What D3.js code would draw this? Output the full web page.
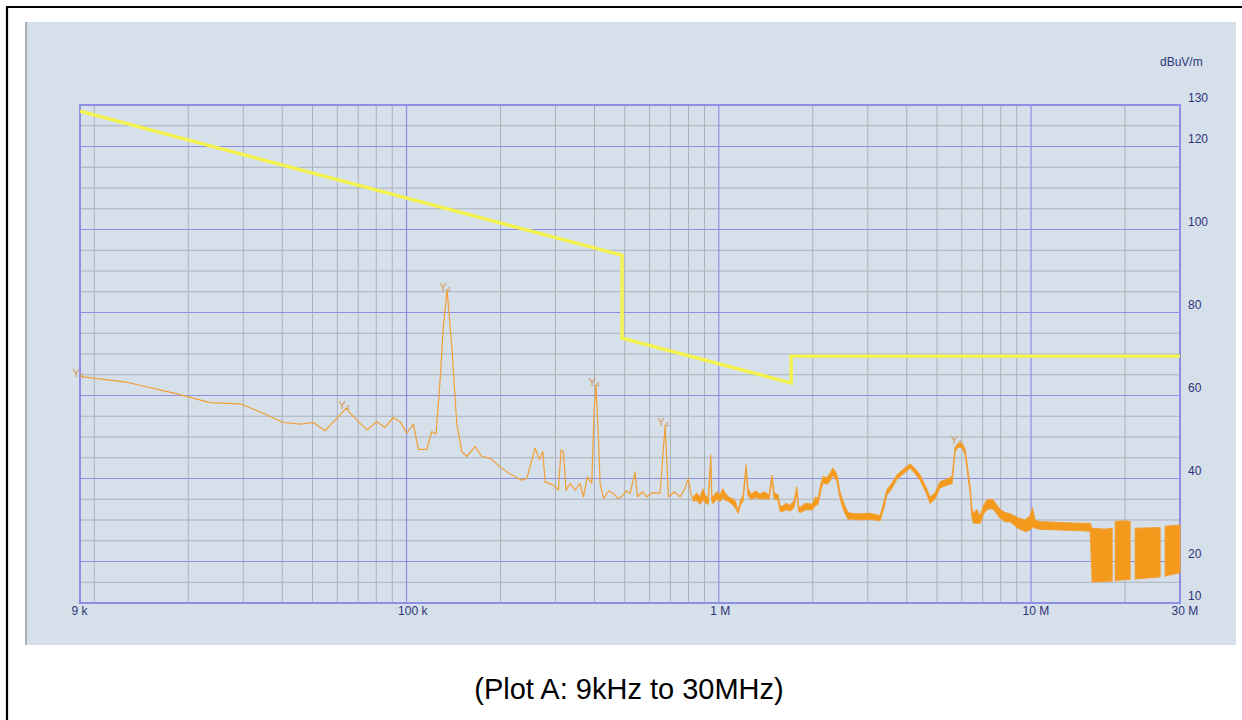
<!DOCTYPE html>
<html>
<head>
<meta charset="utf-8">
<script src="https://cdn.jsdelivr.net/npm/d3@7"></script>
<style>
  html, body { margin: 0; padding: 0; background: #fff; }
  svg { display: block; }
</style>
</head>
<body>
<div id="chart"></div>
<script>
const width = 1242;
const height = 720;

// limit line (kHz, dBuV/m)
const limitFreq = [9, 490, 490, 1705, 1705, 30000];
const limitLevel = [128.5, 93.8, 73.8, 63.0, 69.5, 69.5];

// measured trace, thin part 9 kHz .. 830 kHz (kHz, dBuV/m)
const lineFreq = [
  9.0, 9.22, 12.7, 18.4, 23.5, 29.3, 33.9, 40.3, 45.6, 50.3, 54.8, 59.8, 64.0, 68.4, 74.6,
  80.3, 85.3, 90.7, 95.3, 100.2, 105.2, 109.1, 116.1, 120.4, 124.3, 128.1, 131.2, 134.8, 139.6,
  144.8, 150.3, 155.9, 165.8, 174.2, 185.2, 199.3, 214.6, 233.9, 242.7, 258.0, 266.4, 273.2,
  277.8, 295.3, 306.4, 312.6, 317.9, 324.3, 334.0, 346.6, 359.6, 368.5, 379.5, 392.0, 398.7,
  404.6, 411.5, 416.7, 427.0, 445.0, 459.6, 475.0, 489.0, 505.0, 519.9, 539.5, 548.7, 570.0,
  588.1, 615.0, 648.7, 673.1, 689.7, 720.0, 751.9, 775.0, 799.5, 815.0, 829.4
];
const lineLevel = [
  64.7, 64.5, 63.2, 60.4, 58.3, 58.0, 56.1, 53.5, 53.1, 53.5, 51.5, 54.5, 56.9, 54.5, 51.7,
  53.7, 52.3, 54.7, 53.7, 50.9, 53.1, 47.0, 47.0, 51.3, 50.7, 63.7, 76.6, 85.5, 71.8,
  53.3, 46.5, 45.3, 47.7, 45.3, 44.9, 42.8, 41.1, 39.6, 40.0, 47.3, 44.6, 46.5,
  39.2, 38.4, 37.2, 46.9, 46.5, 37.2, 38.8, 37.2, 38.8, 35.6, 40.4, 38.8, 56.5,
  62.5, 50.1, 38.8, 35.2, 37.0, 36.4, 35.2, 35.6, 37.0, 36.4, 41.6, 35.6, 36.8,
  35.6, 36.6, 36.4, 52.8, 35.6, 36.8, 35.6, 37.2, 40.0, 36.0, 35.0
];

// measured trace, wide noisy part 830 kHz .. 30 MHz: upper and lower edge (kHz, dBuV/m)
const bandFreq = [
  829.4, 850, 871, 890, 904, 925, 943, 950, 959, 985, 1010, 1030, 1047, 1075, 1103, 1130,
  1153, 1175, 1196, 1223, 1240, 1270, 1310, 1356, 1400, 1450, 1479, 1504, 1549, 1570, 1596,
  1640, 1693, 1740, 1778, 1800, 1822, 1900, 1990, 2040, 2080, 2120, 2159, 2220, 2273, 2324,
  2393, 2440, 2483, 2540, 2596, 2700, 2836, 3000, 3167, 3286, 3370, 3452, 3580, 3717, 3900,
  4100, 4250, 4414, 4600, 4752, 4930, 5116, 5375, 5589, 5714, 5842, 6017, 6151, 6280, 6382,
  6460, 6539, 6700, 6872, 7050, 7219, 7400, 7564, 7963, 8250, 8572, 9094, 9575, 9936, 10100,
  10300, 10694, 12393, 14364, 15470,
  15697, 17275, 18190, 18400, 18600, 19727, 20772, 21100, 21546, 25911, 26400, 26883, 30000
];
const bandHi = [
  35.5, 36.5, 35.5, 37.5, 36.0, 35.2, 45.7, 36.0, 35.5, 36.8, 36.0, 37.5, 36.5, 35.5, 35.2, 34.5,
  32.2, 34.8, 35.8, 43.3, 37.5, 36.2, 37.0, 36.2, 36.8, 36.0, 40.8, 36.5, 36.0, 33.5, 33.2,
  34.0, 33.5, 34.5, 38.0, 33.5, 33.0, 34.0, 33.8, 35.5, 35.2, 38.5, 40.5, 40.2, 41.3, 42.5,
  40.8, 37.0, 35.2, 33.2, 31.8, 31.5, 31.5, 31.6, 31.4, 31.0, 34.0, 37.2, 38.8, 40.8, 42.2,
  43.5, 42.4, 40.8, 38.0, 35.5, 36.5, 39.2, 39.8, 40.5, 47.5, 48.5, 48.5, 47.0, 42.0, 38.0,
  33.0, 31.5, 32.5, 31.0, 33.5, 34.8, 35.0, 34.8, 32.5, 31.8, 31.5, 30.5, 30.0, 31.0, 33.0,
  30.0, 29.6, 29.4, 29.2, 29.2,
  28.0, 27.8, 28.0, null, 29.6, 29.8, 29.6, null, 28.0, 28.2, null, 28.5, 28.8
];
const bandLo = [
  34.5, 34.8, 33.8, 35.0, 34.2, 33.8, 44.5, 34.5, 34.0, 35.0, 34.5, 35.5, 34.8, 34.5, 33.8, 33.0,
  31.6, 33.8, 34.5, 42.3, 36.0, 35.0, 35.5, 35.0, 35.2, 35.0, 39.8, 35.2, 34.8, 32.2, 32.0,
  32.5, 32.2, 33.0, 36.8, 32.2, 31.8, 32.5, 32.4, 33.5, 33.8, 37.0, 39.0, 38.6, 39.5, 40.8,
  39.2, 35.5, 33.5, 31.5, 30.2, 30.2, 30.0, 30.2, 30.0, 29.8, 32.5, 36.0, 37.6, 39.8, 41.2,
  42.6, 41.2, 39.6, 36.8, 34.0, 35.2, 37.8, 38.4, 38.8, 46.5, 47.6, 47.4, 45.8, 40.5, 36.5,
  31.0, 29.2, 29.2, 29.2, 31.5, 32.5, 32.8, 32.6, 30.5, 29.6, 29.6, 28.0, 27.2, 27.6, 28.4,
  28.0, 27.8, 27.6, 27.4, 27.3,
  15.1, 15.2, 15.3, null, 15.4, 15.6, 15.7, null, 15.8, 16.3, null, 16.5, 17.3
];

// peak markers (kHz, dBuV/m)
const markerFreq = [9.0, 64.0, 134.8, 404.6, 673.1, 5842];
const markerLevel = [64.7, 56.9, 85.5, 62.5, 52.8, 48.5];

// axis labels
const yTickValues = [130, 120, 100, 80, 60, 40, 20, 10];
const yMajorGrid = [120, 100, 80, 60, 40, 20];
const xTickFreq = [9, 100, 1000, 10000, 30000];
const xTickText = ["9 k", "100 k", "1 M", "10 M", "30 M"];
const xMajorGrid = [100, 1000, 10000];

const plot = { left: 80, right: 1180, top: 105, bottom: 603 };

const x = d3.scaleLog().domain([9, 30000]).range([plot.left, plot.right]);
const y = d3.scaleLinear().domain([10, 130]).range([plot.bottom, plot.top]);

const svg = d3.select("#chart")
  .append("svg")
  .attr("width", width)
  .attr("height", height)
  .attr("viewBox", `0 0 ${width} ${height}`);

// outer frame (left and top edges)
svg.append("line").attr("x1", 7).attr("x2", 7).attr("y1", 6).attr("y2", height)
  .attr("stroke", "#000").attr("stroke-width", 2.2);
svg.append("line").attr("x1", 6).attr("x2", width).attr("y1", 7).attr("y2", 7)
  .attr("stroke", "#000").attr("stroke-width", 2.2);

// instrument panel
svg.append("rect")
  .attr("x", 25).attr("y", 22).attr("width", 1211).attr("height", 623)
  .attr("fill", "#d5e0eb");
svg.append("line").attr("x1", 26).attr("x2", 26).attr("y1", 22).attr("y2", 645)
  .attr("stroke", "#a9b0b8").attr("stroke-width", 2);

// grid
const grid = svg.append("g");
grid.selectAll("line.hminor")
  .data(d3.range(15, 130, 5).filter(v => !yMajorGrid.includes(v)))
  .join("line")
  .attr("x1", plot.left).attr("x2", plot.right)
  .attr("y1", d => y(d)).attr("y2", d => y(d))
  .attr("stroke", "#acb0b9").attr("stroke-width", 1);
grid.selectAll("line.vminor")
  .data(x.ticks().filter(v => v > 9 && v < 30000 && !xMajorGrid.includes(v)))
  .join("line")
  .attr("x1", d => x(d)).attr("x2", d => x(d))
  .attr("y1", plot.top).attr("y2", plot.bottom)
  .attr("stroke", "#acb0b9").attr("stroke-width", 1);
grid.selectAll("line.hmajor")
  .data(yMajorGrid)
  .join("line")
  .attr("x1", plot.left).attr("x2", plot.right)
  .attr("y1", d => y(d)).attr("y2", d => y(d))
  .attr("stroke", "#8e8fe4").attr("stroke-width", 1.2);
grid.selectAll("line.vmajor")
  .data(xMajorGrid)
  .join("line")
  .attr("x1", d => x(d)).attr("x2", d => x(d))
  .attr("y1", plot.top).attr("y2", plot.bottom)
  .attr("stroke", "#8e8fe4").attr("stroke-width", 1.2);
svg.append("rect")
  .attr("x", plot.left).attr("y", plot.top)
  .attr("width", plot.right - plot.left).attr("height", plot.bottom - plot.top)
  .attr("fill", "none").attr("stroke", "#8e8fe4").attr("stroke-width", 2);

// limit line
const limitLine = d3.line()
  .x(i => x(limitFreq[i]))
  .y(i => y(limitLevel[i]));
svg.append("path")
  .attr("d", limitLine(d3.range(limitFreq.length)))
  .attr("fill", "none")
  .attr("stroke", "#f3f34c")
  .attr("stroke-width", 3.4);

// measured trace
const traceLine = d3.line()
  .x(i => x(lineFreq[i]))
  .y(i => y(lineLevel[i]));
svg.append("path")
  .attr("d", traceLine(d3.range(lineFreq.length)))
  .attr("fill", "none")
  .attr("stroke", "#f2a036")
  .attr("stroke-width", 1.2)
  .attr("stroke-linejoin", "round");

const traceArea = d3.area()
  .defined(i => bandHi[i] !== null)
  .x(i => x(bandFreq[i]))
  .y0(i => y(bandLo[i]))
  .y1(i => y(bandHi[i]));
svg.append("path")
  .attr("d", traceArea(d3.range(bandFreq.length)))
  .attr("fill", "#f39a1c")
  .attr("stroke", "#f2a036")
  .attr("stroke-width", 1.1)
  .attr("stroke-linejoin", "round");

// markers
const markers = svg.append("g")
  .attr("font-family", "Liberation Sans, Arial, sans-serif")
  .attr("fill", "#d49a55");
markerFreq.forEach((f, i) => {
  const t = markers.append("text")
    .attr("x", x(f) - 2)
    .attr("y", y(markerLevel[i]) + 1)
    .attr("text-anchor", "middle")
    .attr("font-size", 11)
    .text("Y");
  t.append("tspan").attr("font-size", 7).attr("dy", 1).text("4");
});

// axes
const yAxis = svg.append("g")
  .attr("transform", `translate(${plot.right},0)`)
  .call(d3.axisRight(y).tickValues(yTickValues).tickSize(0).tickPadding(8));
yAxis.select(".domain").remove();
yAxis.selectAll("text")
  .attr("dy", -4)
  .attr("fill", "#2f3478")
  .attr("font-size", 12)
  .attr("font-family", "Liberation Sans, Arial, sans-serif");

const xAxis = svg.append("g")
  .attr("transform", `translate(0,${plot.bottom})`)
  .call(d3.axisBottom(x).tickValues(xTickFreq).tickFormat((d, i) => xTickText[i]).tickSize(0).tickPadding(3));
xAxis.select(".domain").remove();
xAxis.selectAll("text")
  .attr("text-anchor", "start")
  .attr("x", -9)
  .attr("fill", "#2f3478")
  .attr("font-size", 12)
  .attr("font-family", "Liberation Sans, Arial, sans-serif");

svg.append("text")
  .attr("x", 1160).attr("y", 66)
  .attr("fill", "#2f3478")
  .attr("font-size", 12)
  .attr("font-family", "Liberation Sans, Arial, sans-serif")
  .text("dBuV/m");

// caption
svg.append("text")
  .attr("x", 629).attr("y", 699)
  .attr("text-anchor", "middle")
  .attr("font-size", 29)
  .attr("font-family", "Liberation Sans, Arial, sans-serif")
  .attr("fill", "#000")
  .text("(Plot A: 9kHz to 30MHz)");
</script>
</body>
</html>
